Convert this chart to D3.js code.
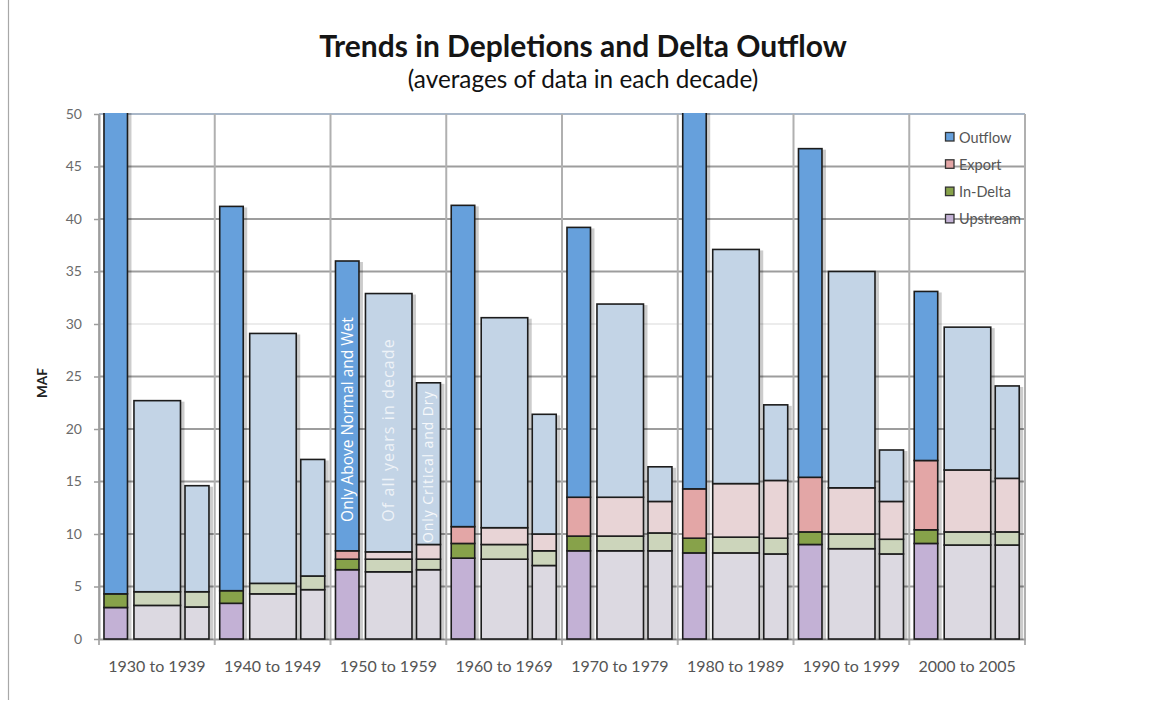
<!DOCTYPE html>
<html>
<head>
<meta charset="utf-8">
<script src="https://cdn.jsdelivr.net/npm/d3@7"></script>
<style>
  body { margin: 0; background: #fff; }
  svg { display: block; font-family: Lato, "Open Sans", sans-serif; }
</style>
</head>
<body>
<svg id="chart" width="1151" height="709"></svg>
<script>
// Decade averages (MAF), three stacks per decade:
// wet = only above-normal and wet years, all = all years, dry = only critical and dry years
const decades = ["1930 to 1939", "1940 to 1949", "1950 to 1959", "1960 to 1969",
                 "1970 to 1979", "1980 to 1989", "1990 to 1999", "2000 to 2005"];
const seriesKeys = ["Upstream", "In-Delta", "Export", "Outflow"];
const legendKeys = ["Outflow", "Export", "In-Delta", "Upstream"];
const yTicks = [0, 5, 10, 15, 20, 25, 30, 35, 40, 45, 50];

const wetUpstream = [3.0, 3.4, 6.6, 7.7, 8.4, 8.2, 9.0, 9.1];
const wetInDelta  = [1.3, 1.2, 1.0, 1.4, 1.4, 1.4, 1.2, 1.3];
const wetExport   = [0.0, 0.0, 0.8, 1.6, 3.7, 4.7, 5.2, 6.6];
const wetOutflow  = [52.0, 36.6, 27.6, 30.6, 25.7, 39.7, 31.3, 16.1];

const allUpstream = [3.2, 4.3, 6.4, 7.6, 8.4, 8.2, 8.6, 8.95];
const allInDelta  = [1.3, 1.0, 1.2, 1.4, 1.4, 1.5, 1.4, 1.25];
const allExport   = [0.0, 0.0, 0.7, 1.6, 3.7, 5.1, 4.4, 5.9];
const allOutflow  = [18.2, 23.8, 24.6, 20.0, 18.4, 22.3, 20.6, 13.6];

const dryUpstream = [3.05, 4.7, 6.6, 7.0, 8.4, 8.1, 8.1, 8.95];
const dryInDelta  = [1.45, 1.3, 1.0, 1.4, 1.7, 1.5, 1.4, 1.25];
const dryExport   = [0.0, 0.0, 1.4, 1.6, 3.0, 5.5, 3.6, 5.1];
const dryOutflow  = [10.1, 11.1, 15.4, 11.4, 3.3, 7.2, 4.9, 8.8];

const svg = d3.select("#chart");
const plot = { left: 99, right: 1025, top: 114, bottom: 639 };

const x = d3.scaleBand().domain(decades).range([plot.left, plot.right]).padding(0);
const y = d3.scaleLinear().domain([0, 50]).range([plot.bottom, plot.top]);

// where each of the three stacks sits inside its decade band
const groups = [
  { id: "wet", span: [0.043, 0.246], up: wetUpstream, dl: wetInDelta, ex: wetExport, of: wetOutflow, dark: true },
  { id: "all", span: [0.302, 0.704], up: allUpstream, dl: allInDelta, ex: allExport, of: allOutflow, dark: false },
  { id: "dry", span: [0.743, 0.950], up: dryUpstream, dl: dryInDelta, ex: dryExport, of: dryOutflow, dark: false }
];

const darkFill  = { "Outflow": "#66a0dc", "Export": "#e3a6a6", "In-Delta": "#87a24a", "Upstream": "#c3b1d5" };
const lightFill = { "Outflow": "#c3d4e6", "Export": "#e8d4d6", "In-Delta": "#ccd5bb", "Upstream": "#dcd9e1" };

// frame edge
svg.append("line").attr("x1", 8.5).attr("x2", 8.5).attr("y1", 0).attr("y2", 700)
  .attr("stroke", "#a8a8a8").attr("stroke-width", 1.2);

// title
svg.append("text").attr("x", 583).attr("y", 57).attr("text-anchor", "middle")
  .style("font-size", "30px").style("font-weight", 700).attr("fill", "#151515")
  .text("Trends in Depletions and Delta Outflow");
svg.append("text").attr("x", 583).attr("y", 88).attr("text-anchor", "middle")
  .style("font-size", "24.3px").attr("fill", "#111")
  .text("(averages of data in each decade)");

// horizontal grid
const grid = svg.append("g");
grid.selectAll("line.h").data(yTicks.filter(t => t > 0)).join("line")
  .attr("x1", plot.left).attr("x2", plot.right)
  .attr("y1", d => y(d)).attr("y2", d => y(d))
  .attr("stroke", d => d === 50 ? "#a9b7c8" : (d === 30 ? "#ececec" : "#9d9d9d"))
  .attr("stroke-width", 2);

// vertical separators between decades
const seps = decades.map(d => x(d)).concat([plot.right]);
grid.selectAll("line.v").data(seps).join("line")
  .attr("x1", d => d).attr("x2", d => d)
  .attr("y1", plot.top).attr("y2", plot.bottom + 6)
  .attr("stroke", "#b0b0b0").attr("stroke-width", 2);

// y axis
const yAxis = svg.append("g").attr("transform", `translate(${plot.left},0)`)
  .call(d3.axisLeft(y).tickValues(yTicks).tickSize(5).tickPadding(12).tickSizeOuter(0));
yAxis.attr("font-family", null);
yAxis.select(".domain").attr("stroke", "#9d9d9d").attr("stroke-width", 2);
yAxis.selectAll(".tick line").attr("stroke", "#9d9d9d").attr("stroke-width", 1.5);
yAxis.selectAll(".tick text").style("font-size", "14px").attr("fill", "#6a6a6a");

// x axis
const xAxis = svg.append("g").attr("transform", `translate(0,${plot.bottom})`)
  .call(d3.axisBottom(x).tickSize(0).tickPadding(22).tickSizeOuter(0));
xAxis.attr("font-family", null);
xAxis.select(".domain").attr("stroke", "#9d9d9d").attr("stroke-width", 2);
xAxis.selectAll(".tick text").style("font-size", "16px").attr("fill", "#555");

// axis title
svg.append("text").attr("transform", "translate(47,383) rotate(-90)")
  .attr("text-anchor", "middle").style("font-size", "13.5px").style("font-weight", 700)
  .attr("fill", "#222").text("MAF");

// bars
svg.append("clipPath").attr("id", "plotClip").append("rect")
  .attr("x", plot.left).attr("y", plot.top - 1)
  .attr("width", plot.right - plot.left + 10).attr("height", plot.bottom - plot.top + 2);

const barsLayer = svg.append("g").attr("clip-path", "url(#plotClip)");

groups.forEach(g => {
  const rows = decades.map((d, i) => ({
    decade: d, "Upstream": g.up[i], "In-Delta": g.dl[i], "Export": g.ex[i], "Outflow": g.of[i]
  }));
  const stacked = d3.stack().keys(seriesKeys)(rows);
  const bx = d => x(d) + g.span[0] * x.bandwidth();
  const bw = (g.span[1] - g.span[0]) * x.bandwidth();
  const fills = g.dark ? darkFill : lightFill;

  // soft shadow behind each stack
  const top = stacked[stacked.length - 1];
  barsLayer.append("g").selectAll("rect").data(top).join("rect")
    .attr("x", d => bx(d.data.decade) + 2)
    .attr("y", d => y(d[1]) + 1)
    .attr("width", bw + 2)
    .attr("height", d => y(0) - y(d[1]))
    .attr("fill", "#000").attr("opacity", 0.2);

  stacked.forEach(layer => {
    barsLayer.append("g").selectAll("rect").data(layer.filter(d => d[1] - d[0] > 0)).join("rect")
      .attr("x", d => bx(d.data.decade))
      .attr("y", d => y(d[1]))
      .attr("width", bw)
      .attr("height", d => y(d[0]) - y(d[1]))
      .attr("fill", fills[layer.key])
      .attr("stroke", "#1c1c1c").attr("stroke-width", 1.6);
  });
});

// notes written up the three 1950s stacks
const noteDecade = "1950 to 1959";
const notes = [
  { group: 0, text: "Only Above Normal and Wet", at: 20.9, size: 15.5, spacing: 0, opacity: 1 },
  { group: 1, text: "Of all years in decade", at: 19.9, size: 16, spacing: 1.1, opacity: 0.72 },
  { group: 2, text: "Only Critical and Dry", at: 16.4, size: 14, spacing: 0.9, opacity: 0.85 }
];
notes.forEach(n => {
  const g = groups[n.group];
  const cx = x(noteDecade) + (g.span[0] + g.span[1]) / 2 * x.bandwidth();
  svg.append("text")
    .attr("transform", `translate(${cx + n.size * 0.35},${y(n.at)}) rotate(-90)`)
    .attr("text-anchor", "middle")
    .style("font-family", "'Open Sans', sans-serif")
    .style("font-size", n.size + "px").style("letter-spacing", n.spacing + "px")
    .attr("fill", "#fff").attr("opacity", n.opacity)
    .text(n.text);
});

// legend
const legend = svg.append("g").attr("transform", "translate(945,132)");
legendKeys.forEach((k, i) => {
  const row = legend.append("g").attr("transform", `translate(0,${i * 27.3})`);
  row.append("rect").attr("x", 0.5).attr("y", 0.5).attr("width", 8.5).attr("height", 8.5)
    .attr("fill", darkFill[k]).attr("stroke", "#333").attr("stroke-width", 1.3);
  row.append("text").attr("x", 14).attr("y", 10.5).style("font-size", "14.5px").attr("fill", "#555").text(k);
});
</script>
</body>
</html>
